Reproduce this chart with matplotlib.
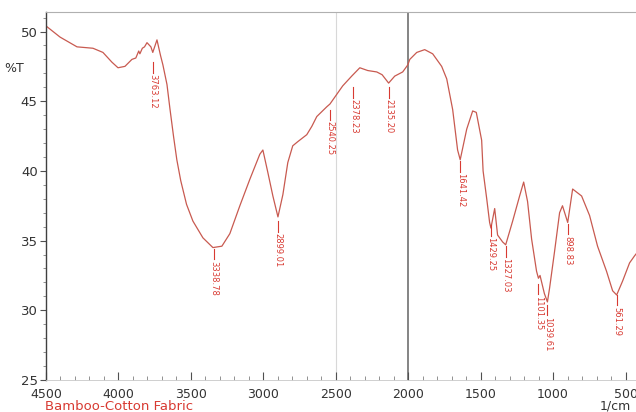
import matplotlib
matplotlib.use("Agg")
import matplotlib.pyplot as plt
from matplotlib.ticker import MultipleLocator

# Spectrum data (wavenumber, %T)
wavenumber = [4500, 4403, 4286, 4176, 4107, 4045, 4003, 3955, 3907, 3880, 3860, 3852,
              3835, 3820, 3803, 3776, 3763, 3734, 3710, 3693, 3665, 3645, 3620, 3597,
              3570, 3530, 3486, 3417, 3348, 3286, 3231, 3162, 3093, 3024, 3003, 2969, 2934,
              2899, 2865, 2831, 2797, 2762, 2700, 2665, 2631, 2562, 2540, 2452, 2390,
              2334, 2279, 2217, 2180, 2135, 2093, 2038, 2003, 1989, 1941, 1886, 1831,
              1769, 1734, 1693, 1659, 1641, 1596, 1555, 1530, 1493, 1483, 1458, 1438,
              1429, 1403, 1383, 1348, 1327, 1279, 1231, 1203, 1176, 1148, 1114, 1101,
              1090, 1060, 1039, 1024, 990, 955, 935, 899, 865, 803, 748, 693, 631, 589,
              561, 520, 472, 438, 400]
transmittance = [50.4, 49.6, 48.9, 48.8, 48.5, 47.8, 47.4, 47.5, 48.0, 48.1, 48.6, 48.4,
                 48.8, 48.9, 49.2, 48.9, 48.5, 49.4, 48.3, 47.6, 46.2, 44.5, 42.5, 40.8,
                 39.3, 37.6, 36.4, 35.2, 34.5, 34.6, 35.5, 37.5, 39.4, 41.2, 41.5, 39.9, 38.2,
                 36.7, 38.3, 40.6, 41.8, 42.1, 42.6, 43.2, 43.9, 44.6, 44.8, 46.1, 46.8,
                 47.4, 47.2, 47.1, 46.9, 46.3, 46.8, 47.1, 47.6, 48.0, 48.5, 48.7, 48.4,
                 47.5, 46.6, 44.4, 41.5, 40.8, 43.0, 44.3, 44.2, 42.2, 40.0, 38.0, 36.3,
                 35.9, 37.3, 35.4, 34.9, 34.7, 36.4, 38.2, 39.2, 37.8, 35.1, 32.8, 32.3,
                 32.5, 31.2, 30.6, 31.6, 34.2, 37.0, 37.5, 36.3, 38.7, 38.2, 36.8, 34.6,
                 32.8, 31.4, 31.1, 32.1, 33.4, 33.9, 34.4]

# Peak labels and the %T where each label's tick starts
peak_wn = [3763.12, 3338.78, 2899.01, 2540.25, 2378.23, 2135.20, 1641.42,
           1429.25, 1327.03, 1101.35, 1039.61, 898.83, 561.29]
peak_top = [47.8, 34.4, 36.4, 44.4, 46.0, 46.0, 40.7,
            36.1, 34.6, 31.9, 30.4, 36.2, 31.1]

x_ticks = [4500, 4000, 3500, 3000, 2500, 2000, 1500, 1000, 500]
y_ticks = [25, 30, 35, 40, 45, 50]

line_color = "#c85a50"
label_color = "#d83a32"

fig = plt.figure(figsize=(6.36, 4.12), dpi=100)
W, H = 636, 412
ax = fig.add_axes([46 / W, (H - 380) / H, 594 / W, 368 / H])

ax.plot(wavenumber, transmittance, color=line_color, lw=0.9)

# reference vertical lines
ax.axvline(2000, color="#707070", lw=1.2, zorder=0)
ax.axvline(2500, color="#d8d8d8", lw=0.8, zorder=0)

tick_len = 0.75
for wn, top in zip(peak_wn, peak_top):
    ax.plot([wn, wn], [top, top - tick_len], color=label_color, lw=0.8)
    ax.text(wn, top - tick_len - 0.1, f"{wn:.2f}", rotation=270,
            ha="center", va="top", fontsize=6, color=label_color)

ax.set_xlim(4500, 400)
ax.set_ylim(25, 51.4)
ax.set_xticks(x_ticks)
ax.set_xticklabels([str(t) for t in x_ticks])
ax.set_yticks(y_ticks)
ax.set_yticklabels([str(t) for t in y_ticks])
ax.xaxis.set_minor_locator(MultipleLocator(100))
ax.yaxis.set_minor_locator(MultipleLocator(1))

ax.tick_params(axis="x", which="major", direction="in", length=6, width=0.8,
               colors="#505050", labelsize=9, labelcolor="#333333", pad=5.5)
ax.tick_params(axis="x", which="minor", direction="in", length=3, width=0.6, colors="#808080")
ax.tick_params(axis="y", which="major", direction="out", length=4, width=0.8,
               colors="#505050", labelsize=9.5, labelcolor="#333333", pad=2)
ax.tick_params(axis="y", which="minor", direction="out", length=2, width=0.6, colors="#808080")

ax.spines["left"].set_color("#404040")
ax.spines["left"].set_linewidth(1.0)
ax.spines["top"].set_color("#b0b0b0")
ax.spines["top"].set_linewidth(0.8)
ax.spines["bottom"].set_color("#c8c8c8")
ax.spines["bottom"].set_linewidth(0.6)
ax.spines["right"].set_visible(False)

fig.text(4 / W, (H - 68) / H, "%T", fontsize=9, color="#333333", va="center", ha="left")
fig.text(45 / W, (H - 406) / H, "Bamboo-Cotton Fabric", fontsize=9.5,
         color=label_color, va="center", ha="left")
fig.text(600 / W, (H - 406) / H, "1/cm", fontsize=9, color="#333333", va="center", ha="left")

fig.savefig("out.png", dpi=100)
